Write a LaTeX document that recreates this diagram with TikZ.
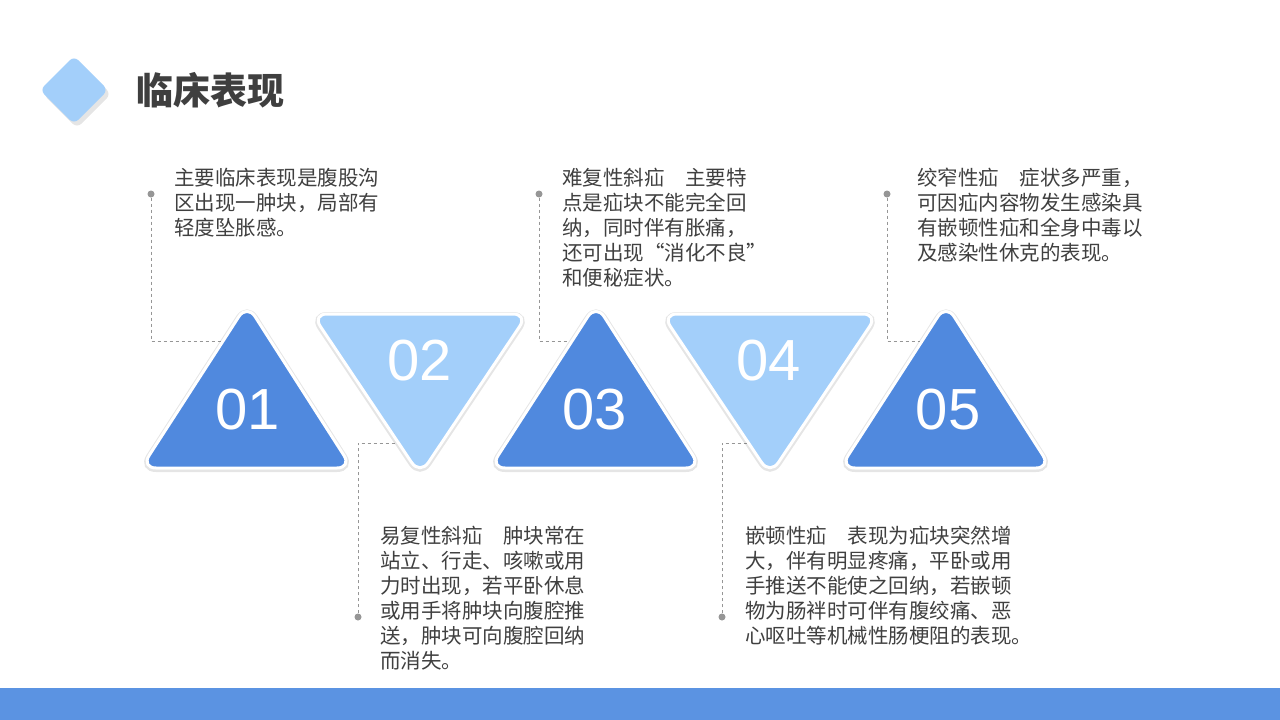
\documentclass[tikz,border=0pt]{standalone}
\usepackage{fontspec}
\setmainfont{Liberation Sans}
\newfontfamily\cjk{Noto Sans CJK SC}
\definecolor{dkblue}{RGB}{80,137,222}
\definecolor{ltblue}{RGB}{163,207,250}
\definecolor{barblue}{RGB}{91,147,226}
\definecolor{leadgray}{RGB}{150,150,150}
\definecolor{txtgray}{RGB}{64,64,64}
\definecolor{titlegray}{RGB}{63,63,63}
\begin{document}
\begin{tikzpicture}[x=1pt,y=-1pt,
  dkb/.style={fill=dkblue},
  ltb/.style={fill=ltblue},
  tri/.style={draw=white,line width=3pt,rounded corners=15pt},
  shd/.style={draw=black,line width=6pt,fill=black,opacity=0.10,rounded corners=15pt},
  num/.style={text=white,font=\fontsize{58}{58}\selectfont},
  lead/.style={draw=leadgray,dashed,line width=0.8pt},
  dotn/.style={circle,fill=leadgray,inner sep=0pt,minimum size=7pt},
  txt/.style={anchor=north west,align=left,inner sep=0pt,text=txtgray,font=\cjk\fontsize{20.5}{25}\selectfont}]
\useasboundingbox (0,0) rectangle (1280,720);
\fill[white] (0,0) rectangle (1280,720);
\fill[barblue] (0,688) rectangle (1280,720);
% title
\fill[black,opacity=0.10,rounded corners=6pt] (77,60) -- (111,94) -- (77,128) -- (43,94) -- cycle;
\fill[ltblue,rounded corners=6pt] (74,56) -- (108,90) -- (74,124) -- (40,90) -- cycle;
\node[anchor=west,inner sep=0pt,font=\cjk\bfseries\fontsize{37}{37}\selectfont,text=titlegray] (title) at (136,90) {临床表现};
% leaders
\node[dotn] (d1) at (151,194) {};
\node[dotn] (d3) at (539,194) {};
\node[dotn] (d5) at (887,194) {};
\node[dotn] (d2) at (358,617) {};
\node[dotn] (d4) at (722,617) {};
\coordinate (e1) at (230,341); \coordinate (e3) at (580,341); \coordinate (e5) at (928,341);
\coordinate (e2) at (405,443); \coordinate (e4) at (760,443);
\draw[lead] (d1) |- (e1);
\draw[lead] (d3) |- (e3);
\draw[lead] (d5) |- (e5);
\draw[lead] (d2) |- (e2);
\draw[lead] (d4) |- (e4);
% triangles
\foreach \cx in {247,596,946}{
  \path[shd] (\cx-106,469) -- (\cx+105,469) -- (\cx,305) -- cycle;
  \path[tri,dkb] (\cx-106,468) -- (\cx+105,468) -- (\cx,304) -- cycle;}
\foreach \cx in {420,770}{
  \path[shd] (\cx-108,315) -- (\cx+108,315) -- (\cx,476) -- cycle;
  \path[tri,ltb] (\cx-108,314) -- (\cx+108,314) -- (\cx,475) -- cycle;}
\node[num] (n1) at (248,410) {01};
\node[num] (n2) at (420,361) {02};
\node[num] (n3) at (595,410) {03};
\node[num] (n4) at (769,361) {04};
\node[num] (n5) at (948,410) {05};
% texts
\node[txt] (t1) at (174,168) {主要临床表现是腹股沟\\区出现一肿块，局部有\\轻度坠胀感。};
\node[txt] (t3) at (562,168) {难复性斜疝\quad 主要特\\点是疝块不能完全回\\纳，同时伴有胀痛，\\还可出现“消化不良”\\和便秘症状。};
\node[txt] (t5) at (917,168) {绞窄性疝\quad 症状多严重，\\可因疝内容物发生感染具\\有嵌顿性疝和全身中毒以\\及感染性休克的表现。};
\node[txt] (t2) at (380,526) {易复性斜疝\quad 肿块常在\\站立、行走、咳嗽或用\\力时出现，若平卧休息\\或用手将肿块向腹腔推\\送，肿块可向腹腔回纳\\而消失。};
\node[txt] (t4) at (745,526) {嵌顿性疝\quad 表现为疝块突然增\\大，伴有明显疼痛，平卧或用\\手推送不能使之回纳，若嵌顿\\物为肠袢时可伴有腹绞痛、恶\\心呕吐等机械性肠梗阻的表现。};
\end{tikzpicture}
\end{document}
